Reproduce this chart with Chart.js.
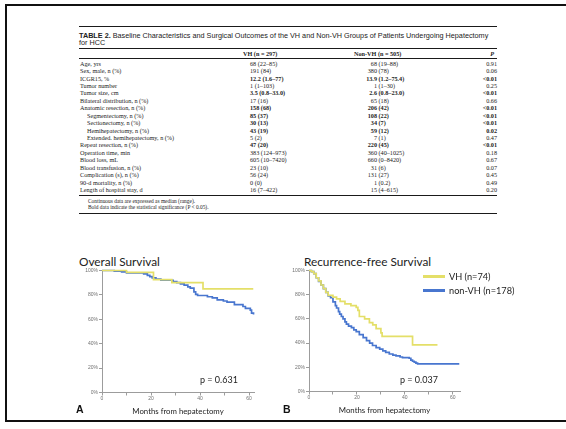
<!DOCTYPE html>
<html>
<head>
<meta charset="utf-8">
<script src="https://cdn.jsdelivr.net/npm/chart.js@4.4.1/dist/chart.umd.min.js"></script>
<style>
  html, body { margin: 0; padding: 0; background: #fff; width: 566px; height: 429px; overflow: hidden; }
  #frame { position: absolute; left: 5px; top: 4px; width: 700px; height: 418px; border: 2px solid #111; box-sizing: border-box; }
  .t { position: absolute; white-space: nowrap; line-height: 1; }
  .rule { position: absolute; left: 79px; width: 418px; background: #1a1a1a; }
  .serif { font-family: "Liberation Serif", "DejaVu Serif", serif; font-size: 6.2px; color: #222; }
  .sans { font-family: "Liberation Sans", Arial, sans-serif; color: #222; }
  .cal { font-family: Lato, "Open Sans", sans-serif; color: #222; }
  .chartbox { position: absolute; }
  .leg { position: absolute; height: 2.5px; }
</style>
</head>
<body>
<div id="frame"></div>
<div id="table"></div>

<div class="t cal" style="left:79px; top:256px; font-size:11.8px;">Overall Survival</div>
<div class="t cal" style="left:304px; top:256px; font-size:11.8px;">Recurrence-free Survival</div>

<div class="chartbox" style="left:58px; top:262px; width:200px; height:160px;"><canvas id="osChart"></canvas></div>
<div class="chartbox" style="left:265px; top:262px; width:200px; height:160px;"><canvas id="rfsChart"></canvas></div>

<div class="t cal" style="left:200px; top:375px; font-size:9px;">p = 0.631</div>
<div class="t cal" style="left:400px; top:375px; font-size:9px;">p = 0.037</div>
<div class="t sans" style="left:76px; top:404px; font-size:10.5px; font-weight:bold; color:#111;">A</div>
<div class="t sans" style="left:283px; top:404px; font-size:10.5px; font-weight:bold; color:#111;">B</div>

<div id="legend"></div>

<script>
// ---- Table 2 content ----
const tableTitle = ['TABLE 2.', ' Baseline Characteristics and Surgical Outcomes of the VH and Non-VH Groups of Patients Undergoing Hepatectomy', 'for HCC'];
const tableHeader = ['VH (n = 297)', 'Non-VH (n = 505)', 'P'];
const rowLabels = ['Age, yrs', 'Sex, male, n (%)', 'ICGR15, %', 'Tumor number', 'Tumor size, cm',
  'Bilateral distribution, n (%)', 'Anatomic resection, n (%)', 'Segmentectomy, n (%)',
  'Sectionectomy, n (%)', 'Hemihepatectomy, n (%)', 'Extended. hemihepatectomy, n (%)',
  'Repeat resection, n (%)', 'Operation time, min', 'Blood loss, mL', 'Blood transfusion, n (%)',
  'Complication (s), n (%)', '90-d mortality, n (%)', 'Length of hospital stay, d'];
const vhValues = ['68 (22–85)', '191 (84)', '12.2 (1.6–77)', '1 (1–103)', '3.5 (0.8–33.0)', '17 (16)',
  '158 (68)', '85 (37)', '30 (13)', '43 (19)', '5 (2)', '47 (20)', '383 (124–973)', '605 (10–7420)',
  '23 (10)', '56 (24)', '0 (0)', '16 (7–422)'];
const nonVhValues = ['68 (19–88)', '380 (78)', '13.9 (1.2–75.4)', '1 (1–30)', '2.6 (0.8–23.0)', '65 (18)',
  '206 (42)', '108 (22)', '34 (7)', '59 (12)', '7 (1)', '220 (45)', '360 (40–1025)', '660 (0–8420)',
  '31 (6)', '131 (27)', '1 (0.2)', '15 (4–615)'];
const pValues = ['0.91', '0.06', '<0.01', '0.25', '<0.01', '0.66', '<0.01', '<0.01', '<0.01', '0.02',
  '0.47', '<0.01', '0.18', '0.67', '0.07', '0.45', '0.49', '0.20'];
const boldRows = [2, 4, 6, 7, 8, 9, 11];
const indentRows = [7, 8, 9, 10];
const tableNotes = ['Continuous data are expressed as median (range).',
  'Bold data indicate the statistical significance (P < 0.05).'];

// ---- Kaplan-Meier curves (months, % surviving) ----
const osVhMonths = [0, 10, 21, 28.5, 41.2, 61.7];
const osVhSurvival = [100, 98.5, 92.5, 90, 85, 85];
const osNonVhMonths = [0, 5, 8, 10, 17, 18.5, 19.5, 20.5, 22, 24, 29, 30.5, 32, 33.5, 35, 36, 37.5, 38.2, 39,
  43, 45, 47, 49.5, 51, 54, 57.5, 58.5, 60.5, 61, 61.8];
const osNonVhSurvival = [100, 99.5, 98.8, 98, 97.2, 96, 95, 94, 93, 92, 91, 90, 89, 88, 86.5, 85.5, 82.5, 80.5, 79.5,
  78.5, 77.5, 76, 75, 74, 72, 70.5, 69, 67.5, 65, 64];

const rfsVhMonths = [0, 1, 2, 3, 4, 5, 6, 7, 8, 10, 11.5, 13, 15, 17.5, 19.7, 20.4, 21, 23.2, 25.2, 26.6, 28,
  30, 30.5, 43.2, 53.6];
const rfsVhSurvival = [100, 99, 97.5, 94, 91.5, 88, 85, 82, 79.5, 78, 76.5, 74.5, 72.5, 71, 69.5, 67, 62, 60,
  57, 55, 52, 48.5, 45.5, 38.5, 38.5];
const rfsNonVhMonths = [0, 1, 2, 3, 4, 5, 6, 7, 8, 9, 10, 11, 11.5, 12.3, 12.8, 13.5, 14.2, 15, 15.6, 16.5, 17.7,
  18.7, 19.7, 21, 22.6, 24, 25.3, 26.5, 28, 29.5, 30.8, 32, 33.5, 35, 36.3, 38, 39, 41.8, 42.5, 43.2, 43.9,
  44.6, 45.3, 62.7];
const rfsNonVhSurvival = [100, 99, 97.5, 94, 91, 88, 85, 82, 79, 77.5, 74, 71, 69, 66, 64, 62, 60, 57.5, 55.6,
  54, 52.8, 51, 49.5, 47, 44.6, 42, 40, 38, 36.3, 35, 33.5, 32.3, 31, 30, 29.4, 28.5, 28, 27.5, 26, 25, 24.2,
  23.5, 22.8, 22.8];

const seriesNames = ['VH (n=74)', 'non-VH (n=178)'];
const yellow = '#e4df68';
const blue = '#4876cf';

// ---- build the table ----
(function buildTable() {
  const host = document.getElementById('table');
  let html = '';
  const rule = (y, h) => `<div class="rule" style="top:${y}px;height:${h}px"></div>`;
  html += rule(25.5, 1.5);
  html += `<div class="t sans" style="left:79px;top:31.5px;font-size:7.25px;"><b>${tableTitle[0]}</b>${tableTitle[1]}</div>`;
  html += `<div class="t sans" style="left:79px;top:38.5px;font-size:7.25px;">${tableTitle[2]}</div>`;
  html += rule(47.5, 1.2);
  html += `<div class="t serif" style="left:243px;top:51px;font-weight:bold;">${tableHeader[0]}</div>`;
  html += `<div class="t serif" style="left:354px;top:51px;font-weight:bold;">${tableHeader[1]}</div>`;
  html += `<div class="t serif" style="right:72px;top:51px;font-weight:bold;font-style:italic;">${tableHeader[2]}</div>`;
  html += rule(57.5, 0.6);
  rowLabels.forEach((label, i) => {
    const y = 60.8 + i * 7.42;
    const bold = boldRows.includes(i) ? 'font-weight:bold;' : '';
    const indent = indentRows.includes(i) ? 87 : 80;
    html += `<div class="t serif" style="left:${indent}px;top:${y}px;">${label}</div>`;
    html += `<div class="t serif" style="left:250px;top:${y}px;${bold}">${vhValues[i]}</div>`;
    const sp = nonVhValues[i].indexOf(' ');
    html += `<div class="t serif" style="right:${566 - 377}px;top:${y}px;${bold}">${nonVhValues[i].slice(0, sp)}</div>`;
    html += `<div class="t serif" style="left:378.5px;top:${y}px;${bold}">${nonVhValues[i].slice(sp + 1)}</div>`;
    html += `<div class="t serif" style="right:69px;top:${y}px;${bold}">${pValues[i]}</div>`;
  });
  html += rule(194.5, 1);
  html += `<div class="t serif" style="left:88px;top:199px;font-size:5.4px;">${tableNotes[0]}</div>`;
  html += `<div class="t serif" style="left:88px;top:205px;font-size:5.4px;">${tableNotes[1]}</div>`;
  html += rule(212.5, 1.2);
  host.innerHTML = html;
})();

// ---- legend for the recurrence-free panel ----
(function buildLegend() {
  const host = document.getElementById('legend');
  const items = [[seriesNames[0], yellow, 276.5], [seriesNames[1], blue, 290.5]];
  host.innerHTML = items.map(([name, color, y]) =>
    `<div class="leg" style="left:423px;top:${y - 1.2}px;width:22px;background:${color}"></div>` +
    `<div class="t cal" style="left:449px;top:${y - 4.8}px;font-size:9.2px;">${name}</div>`).join('');
})();

// ---- survival charts ----
function kmDataset(label, months, survival, color) {
  return {
    label,
    data: months.map((m, i) => ({ x: m, y: survival[i] })),
    borderColor: color,
    borderWidth: 1.7,
    pointRadius: 0,
    showLine: true,
    stepped: 'before',
    fill: false,
    clip: false
  };
}

function kmOptions(xMax, pad) {
  const axisColor = '#9c9c9c';
  const tickFont = { family: 'Liberation Sans, Arial, sans-serif', size: 5 };
  return {
    responsive: true,
    maintainAspectRatio: false,
    animation: false,
    layout: { padding: pad },
    plugins: { legend: { display: false }, tooltip: { enabled: false }, title: { display: false } },
    scales: {
      x: {
        type: 'linear', min: 0, max: xMax,
        afterFit: s => { s.height = 25; },
        border: { color: axisColor, width: 1 },
        grid: { display: true, drawOnChartArea: false, drawTicks: true, tickLength: 3, color: axisColor },
        ticks: {
          stepSize: 10, includeBounds: false, padding: 0, maxRotation: 0, autoSkip: false,
          font: tickFont, color: '#707070',
          callback: v => (v % 20 === 0 ? String(v) : '')
        },
        title: {
          display: true, text: 'Months from hepatectomy', color: '#222',
          font: { family: 'Lato, Open Sans, sans-serif', size: 7.8 }, padding: { top: 0, bottom: 1 }
        }
      },
      y: {
        min: 0, max: 100,
        afterFit: s => { s.width = 44; },
        border: { color: axisColor, width: 1 },
        grid: { display: true, drawOnChartArea: false, drawTicks: true, tickLength: 3, color: axisColor },
        ticks: {
          stepSize: 20, padding: 1, font: tickFont, color: '#707070',
          callback: v => v + '%'
        }
      }
    }
  };
}

new Chart(document.getElementById('osChart'), {
  type: 'scatter',
  data: {
    datasets: [
      kmDataset(seriesNames[0], osVhMonths, osVhSurvival, yellow),
      kmDataset(seriesNames[1], osNonVhMonths, osNonVhSurvival, blue)
    ]
  },
  options: kmOptions(62, { left: 0, right: 4, top: 8.5, bottom: 4.5 })
});

new Chart(document.getElementById('rfsChart'), {
  type: 'scatter',
  data: {
    datasets: [
      kmDataset(seriesNames[0], rfsVhMonths, rfsVhSurvival, yellow),
      kmDataset(seriesNames[1], rfsNonVhMonths, rfsNonVhSurvival, blue)
    ]
  },
  options: kmOptions(63, { left: 0, right: 5, top: 8.5, bottom: 5.5 })
});
</script>
</body>
</html>
